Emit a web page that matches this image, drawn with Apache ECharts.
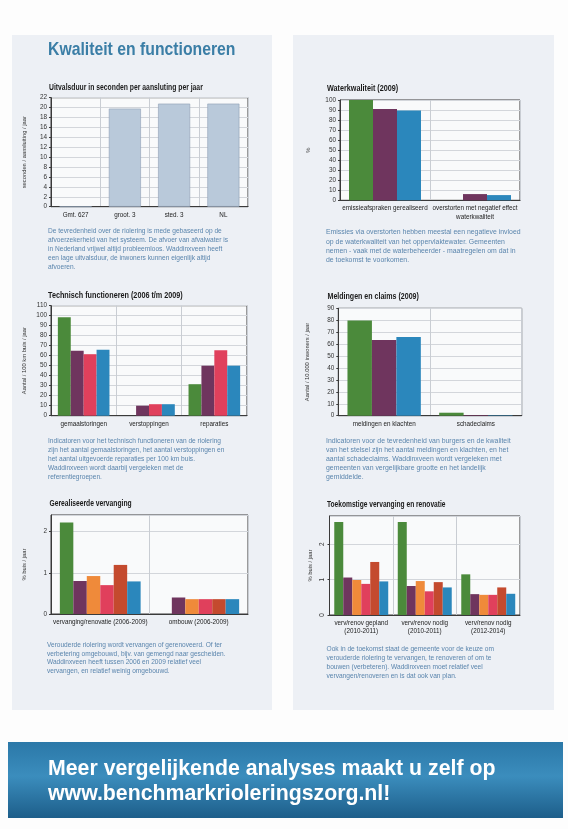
<!DOCTYPE html>
<html><head><meta charset="utf-8">
<script src="https://cdn.jsdelivr.net/npm/echarts@6/dist/echarts.min.js"></script>
<style>html,body{margin:0;padding:0;background:#fff}#c{width:568px;height:829px}</style>
</head><body><div id="c"></div>
<script>
// ---------- data ----------
const uitvalCats = ['Gmt. 627', 'groot. 3', 'sted. 3', 'NL'];
const uitvalValues = [0, 19.8, 20.8, 20.8];
const uitvalTicks = [0, 22, 2];

const waterCats = ['emissieafspraken gerealiseerd', 'overstorten met negatief effect\nwaterkwaliteit'];
const waterGreen = [100, 0];
const waterPurple = [91, 6.2];
const waterBlue = [89.5, 5.2];
const waterTicks = [0, 100, 10];

const techCats = ['gemaalstoringen', 'verstoppingen', 'reparaties'];
const techGreen = [98.5, 0, 31.5];
const techPurple = [65, 10, 50];
const techRed = [61.5, 11.5, 65.5];
const techBlue = [66, 11.5, 50];
const techTicks = [0, 110, 10];

const meldCats = ['meldingen en klachten', 'schadeclaims'];
const meldGreen = [79.7, 2.5];
const meldPurple = [63.5, 0.6];
const meldBlue = [66, 0.4];
const meldTicks = [0, 90, 10];

const realCats = ['vervanging/renovatie (2006-2009)', 'ombouw (2006-2009)'];
const realGreen = [2.22, 0];
const realPurple = [0.80, 0.40];
const realOrange = [0.92, 0.36];
const realPink = [0.70, 0.36];
const realBrick = [1.19, 0.36];
const realBlue = [0.79, 0.36];
const realTicks = [0, 2.4, 1];

const toekCats = ['verv/renov gepland\n(2010-2011)', 'verv/renov nodig\n(2010-2011)', 'verv/renov nodig\n(2012-2014)'];
const toekGreen = [2.63, 2.63, 1.15];
const toekPurple = [1.06, 0.82, 0.59];
const toekOrange = [0.99, 0.96, 0.57];
const toekPink = [0.88, 0.67, 0.57];
const toekBrick = [1.50, 0.93, 0.78];
const toekBlue = [0.95, 0.78, 0.60];
const toekTicks = [0, 2.8, 1];

// ---------- styles ----------
const C = {
  green: '#4b8a3b', purple: '#6f355e', blue: '#2b87bc', pink: '#e0405c',
  orange: '#ef8a3a', brick: '#c44a2e', grey: '#b9c9da'
};
const SANS = '"Liberation Sans",Arial,sans-serif';
const TXT = '#5a85ad';

const grids = [
  {left: 51, top: 97.7, width: 197, height: 109},
  {left: 340, top: 100, width: 180, height: 100.3},
  {left: 51, top: 305.7, width: 196, height: 110},
  {left: 338.3, top: 308.3, width: 183.4, height: 107.4},
  {left: 51, top: 515, width: 197, height: 99},
  {left: 329.5, top: 516, width: 190.5, height: 99}
].map(g => Object.assign({show: true, borderColor: '#3a3a3a', borderWidth: 1, backgroundColor: '#f9fafb', containLabel: false}, g));

const catList = [uitvalCats, waterCats, techCats, meldCats, realCats, toekCats];
const tickList = [uitvalTicks, waterTicks, techTicks, meldTicks, realTicks, toekTicks];
const yNames = ['seconden / aansluiting / jaar', '%', 'Aantal / 100 km buis / jaar',
  'Aantal / 10.000 inwoners / jaar', '% buis / jaar', '% buis / jaar'];
const yNameGaps = [24, 29, 24, 28, 24, 16];

const xAxis = catList.map((cats, i) => ({
  type: 'category', gridIndex: i, data: cats,
  axisLine: {show: true, lineStyle: {color: '#3a3a3a'}},
  axisTick: {show: false},
  splitLine: {show: true, lineStyle: {color: '#c9cdd3', width: 1}},
  axisLabel: {interval: 0, color: '#222', fontFamily: SANS, fontSize: 6.3, margin: 4, lineHeight: 8.5}
}));
const yAxis = tickList.map((t, i) => ({
  type: 'value', gridIndex: i, min: t[0], max: t[1], interval: t[2],
  name: yNames[i], nameLocation: 'middle', nameGap: yNameGaps[i], nameRotate: 90,
  nameTextStyle: {fontFamily: SANS, fontSize: 5.8, color: '#333'},
  axisLine: {show: true, lineStyle: {color: '#3a3a3a'}},
  axisTick: {show: true, length: 2, lineStyle: {color: '#3a3a3a'}},
  splitLine: {show: true, lineStyle: {color: '#d3d6db'}},
  axisLabel: {color: '#333', fontFamily: SANS, fontSize: 6.4, margin: 4, showMaxLabel: (i < 4),
    rotate: i === 5 ? 90 : 0}
}));

function bars(gi, arr, color, gap) {
  return {type: 'bar', xAxisIndex: gi, yAxisIndex: gi, data: arr, barGap: '0%', barCategoryGap: gap,
    itemStyle: {color: color}, silent: true, animation: false};
}
const series = [
  Object.assign(bars(0, uitvalValues, C.grey, '35%'), {itemStyle: {color: C.grey, borderColor: '#8ea0b5', borderWidth: 0.6}}),
  bars(1, waterGreen, C.green, '20%'), bars(1, waterPurple, C.purple, '20%'), bars(1, waterBlue, C.blue, '20%'),
  bars(2, techGreen, C.green, '21%'), bars(2, techPurple, C.purple, '21%'), bars(2, techRed, C.pink, '21%'), bars(2, techBlue, C.blue, '21%'),
  bars(3, meldGreen, C.green, '20%'), bars(3, meldPurple, C.purple, '20%'), bars(3, meldBlue, C.blue, '20%'),
  bars(4, realGreen, C.green, '18%'), bars(4, realPurple, C.purple, '18%'), bars(4, realOrange, C.orange, '18%'),
  bars(4, realPink, C.pink, '18%'), bars(4, realBrick, C.brick, '18%'), bars(4, realBlue, C.blue, '18%'),
  bars(5, toekGreen, C.green, '15%'), bars(5, toekPurple, C.purple, '15%'), bars(5, toekOrange, C.orange, '15%'),
  bars(5, toekPink, C.pink, '15%'), bars(5, toekBrick, C.brick, '15%'), bars(5, toekBlue, C.blue, '15%')
];

// ---------- texts ----------
function title(x, y, t, sx) {
  return {type: 'text', x: x, y: y, scaleX: sx || 0.82,
    style: {text: t, fontFamily: SANS, fontWeight: 'bold', fontSize: 8.5, fill: '#1a1a1a', verticalAlign: 'top'}};
}
function para(x, y, lines, fs, lh) {
  return {type: 'text', x: x, y: y, style: {text: lines.join('\n'), fontFamily: SANS, fontSize: fs, lineHeight: lh || 9, fill: TXT, verticalAlign: 'top'}};
}
const graphic = [
  {type: 'rect', shape: {x: 0, y: 0, width: 568, height: 829}, style: {fill: '#fdfdfd'}, z: -10},
  {type: 'rect', shape: {x: 12, y: 35, width: 260, height: 675}, style: {fill: '#edf0f5'}, z: -9},
  {type: 'rect', shape: {x: 293, y: 35, width: 261, height: 675}, style: {fill: '#edf0f5'}, z: -9},
  {type: 'rect', shape: {x: 8, y: 742, width: 555, height: 76}, z: -9,
    style: {fill: new echarts.graphic.LinearGradient(0, 0, 0, 1, [
      {offset: 0, color: '#2b78a8'}, {offset: 0.45, color: '#3b8dbd'}, {offset: 1, color: '#1d5e8a'}])}},
  {type: 'text', x: 48, y: 40, scaleX: 0.83, style: {text: 'Kwaliteit en functioneren', fontFamily: SANS, fontWeight: 'bold', fontSize: 19, fill: '#3b7ea6', verticalAlign: 'top'}},
  title(49, 83.5, 'Uitvalsduur in seconden per aansluting per jaar', 0.80),
  title(327, 84.5, 'Waterkwaliteit (2009)', 0.85),
  title(48, 291, 'Technisch functioneren (2006 t/m 2009)', 0.85),
  title(327.5, 292.5, 'Meldingen en claims (2009)', 0.83),
  title(49.5, 499.5, 'Gerealiseerde vervanging', 0.79),
  title(327, 500, 'Toekomstige vervanging en renovatie', 0.78),
  para(48, 226.5, ['De tevredenheid over de riolering is mede gebaseerd op de',
    'afvoerzekerheid van het systeem. De afvoer van afvalwater is',
    'in Nederland vrijwel altijd probleemloos. Waddinxveen heeft',
    'een lage uitvalsduur, de inwoners kunnen eigenlijk altijd',
    'afvoeren.'], 6.6),
  para(326, 227.5, ['Emissies via overstorten hebben meestal een negatieve invloed',
    'op de waterkwaliteit van het oppervlaktewater. Gemeenten',
    'nemen - vaak met de waterbeheerder - maatregelen om dat in',
    'de toekomst te voorkomen.'], 6.9, 9.4),
  para(48, 436.2, ['Indicatoren voor het technisch functioneren van de riolering',
    'zijn het aantal gemaalstoringen, het aantal verstoppingen en',
    'het aantal uitgevoerde reparaties per 100 km buis.',
    'Waddinxveen wordt daarbij vergeleken met de',
    'referentiegroepen.'], 6.6),
  para(326, 436.2, ['Indicatoren voor de tevredenheid van burgers en de kwaliteit',
    'van het stelsel zijn het aantal meldingen en klachten, en het',
    'aantal schadeclaims. Waddinxveen wordt vergeleken met',
    'gemeenten van vergelijkbare grootte en het landelijk',
    'gemiddelde.'], 6.9),
  para(47, 641.3, ['Verouderde riolering wordt vervangen of gerenoveerd. Of ter',
    'verbetering omgebouwd, bijv. van gemengd naar gescheiden.',
    'Waddinxveen heeft tussen 2006 en 2009 relatief veel',
    'vervangen, en relatief weinig omgebouwd.'], 6.55, 8.5),
  para(326.5, 644.5, ['Ook in de toekomst staat de gemeente voor de keuze om',
    'verouderde riolering te vervangen, te renoveren of om te',
    'bouwen (verbeteren). Waddinxveen moet relatief veel',
    'vervangen/renoveren en is dat ook van plan.'], 6.6),
  {type: 'text', x: 48, y: 757, style: {text: 'Meer vergelijkende analyses maakt u zelf op\nwww.benchmarkrioleringszorg.nl!',
    fontFamily: SANS, fontWeight: 'bold', fontSize: 21.3, lineHeight: 25, fill: '#ffffff', verticalAlign: 'top'}}
];

const chart = echarts.init(document.getElementById('c'), null, {renderer: 'canvas'});
chart.setOption({
  animation: false,
  backgroundColor: '#fdfdfd',
  grid: grids, xAxis: xAxis, yAxis: yAxis, series: series, graphic: graphic
});
</script></body></html>
